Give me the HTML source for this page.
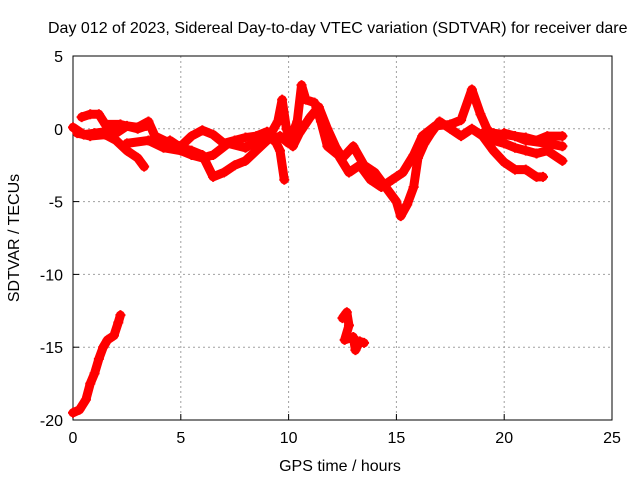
<!DOCTYPE html>
<html><head><meta charset="utf-8"><style>
body{margin:0;background:#fff;}
svg text{font-family:"Liberation Sans",sans-serif;font-size:16px;fill:#000;}
</style></head><body>
<svg id="chart" width="640" height="480" xmlns="http://www.w3.org/2000/svg">
<text x="48" y="33">Day 012 of 2023, Sidereal Day-to-day VTEC variation (SDTVAR) for receiver dare</text>
<g id="grid"></g>
<g id="axes"></g>
<g id="series"></g>
<text x="340" y="471" text-anchor="middle">GPS time / hours</text>
<text transform="translate(19,238) rotate(-90)" text-anchor="middle">SDTVAR / TECUs</text>
</svg>
<script>
const xTicks=[0,5,10,15,20,25];
const yTicks=[5,0,-5,-10,-15,-20];
const track1=[[0,0.1],[0.5,-0.4],[1,-0.3],[1.5,-0.2],[2,-0.3],[2.5,0.2],[3,0.1],[3.5,0.5],[3.8,-0.5],[4.5,-1.0],[5,-1.2],[5.5,-0.5],[6,-0.1],[6.5,-0.4],[7,-1.0],[7.5,-0.8],[8,-0.6],[8.5,-0.5],[9,-0.2],[9.3,-0.8],[9.6,-0.5],[10,-1.0],[10.4,0.5],[10.6,3.0],[10.8,2.0],[11.2,1.8],[11.5,0.5],[11.8,-1.2],[12.3,-1.8],[12.8,-3.0],[13.3,-2.5],[13.8,-3.5],[14.3,-4.0],[14.8,-3.5],[15.3,-3.0],[15.8,-1.8],[16.2,-0.5],[16.8,0.2],[17.5,0.3],[18,0.6],[18.5,2.7],[18.9,1.0],[19.2,0.0],[19.6,-0.7],[20,-0.3],[20.5,-0.5],[21,-0.6],[21.5,-0.8],[22,-0.5],[22.7,-0.5]];
const track2=[[0.2,-0.3],[0.8,-0.5],[1.5,-0.4],[2,-0.8],[2.5,-1.5],[3,-2.0],[3.3,-2.6]];
const track3=[[2.5,-1.0],[3.5,-0.8],[4.2,-1.3],[5,-1.5],[5.5,-1.8],[6,-2.0],[6.5,-1.8],[7.2,-1.0],[8,-1.3],[8.6,-0.8],[9.2,-0.3],[9.6,-1.5],[9.8,-3.5]];
const track4=[[4.5,-0.8],[5,-1.3],[5.5,-1.5],[6,-1.8],[6.5,-3.3],[7,-3.0],[7.5,-2.5],[8,-2.2],[8.5,-1.5],[9,-0.8],[9.5,0.5],[9.7,2.0],[9.9,0],[10.2,-1.2],[10.5,-0.3],[11,0.8],[11.4,1.5],[11.8,0],[12.2,-1.3],[12.5,-2.0],[13,-1.2],[13.5,-2.5],[14,-3.0],[14.5,-4.0],[15,-5.0],[15.2,-6.0],[15.5,-5.2],[15.8,-4.0],[16,-2.0],[16.3,-1.0],[16.6,-0.3],[17,0.5],[17.5,0],[18,-0.5],[18.5,0],[19,-0.5],[19.5,-1.5],[20,-2.3],[20.5,-2.8],[21,-2.8],[21.5,-3.3],[21.8,-3.3]];
const track5=[[19.5,-0.8],[20,-1.0],[20.5,-1.3],[21,-1.5],[21.5,-1.7],[22,-1.5],[22.7,-2.2]];
const track6=[[19,-0.3],[19.5,-0.3],[20,-0.4],[20.5,-0.5],[21,-0.8],[22,-1.0],[22.7,-1.2]];
const track7=[[0.4,0.8],[0.8,1.0],[1.2,1.0],[1.5,0.3],[2.2,0.3],[3,0],[3.4,0.2]];
const track8=[[0,-19.5],[0.3,-19.3],[0.6,-18.6],[0.8,-17.5],[1.0,-16.8],[1.2,-15.8],[1.4,-15.0],[1.6,-14.5],[1.9,-14.2],[2.1,-13.3],[2.2,-12.8]];
const track9=[[12.5,-13.0],[12.7,-12.6],[12.8,-13.5],[12.6,-14.5],[13,-14.3],[13.1,-15.2],[13.3,-14.6],[13.5,-14.7]];
const tracks=[track1,track2,track3,track4,track5,track6,track7,track8,track9];
const X0=73,X1=612,Y0=420,Y1=56;
function sx(v){return X0+(v-0)/(25-0)*(X1-X0);}
function sy(v){return Y0-(v+20)/(25)*(Y0-Y1);}
const NS='http://www.w3.org/2000/svg';
function mk(tag,attrs,parent){const e=document.createElementNS(NS,tag);for(const k in attrs)e.setAttribute(k,attrs[k]);parent.appendChild(e);return e;}
const grid=document.getElementById('grid'),axes=document.getElementById('axes'),series=document.getElementById('series');
xTicks.forEach(t=>{
 if(t>0&&t<25){const g=mk('line',{x1:sx(t),x2:sx(t),y1:Y1,y2:Y0,stroke:'#a0a0a0','stroke-dasharray':'2,3'},grid);
 
 }
 const tk=mk('line',{x1:sx(t),x2:sx(t),y1:Y0,y2:Y0-6,stroke:'#000'},axes);
 
 
 const lb=mk('text',{x:sx(t),y:Y0+23,'text-anchor':'middle'},axes);lb.textContent=t;
 
 
});
yTicks.forEach(t=>{
 if(t>-20&&t<5){const g=mk('line',{x1:X0,x2:X1,y1:sy(t),y2:sy(t),stroke:'#a0a0a0','stroke-dasharray':'2,3'},grid);
 
 }
 const tk=mk('line',{x1:X0,x2:X0+6,y1:sy(t),y2:sy(t),stroke:'#000'},axes);
 
 
 const lb=mk('text',{x:X0-10,y:sy(t)+6,'text-anchor':'end'},axes);lb.textContent=t;
 
 
});
const border=mk('rect',{x:X0,y:Y1,width:X1-X0,height:Y0-Y1,fill:'none',stroke:'#000'},axes);


tracks.forEach(tr=>{
 const pl=mk('polyline',{points:tr.map(p=>sx(p[0])+','+sy(p[1])).join(' '),fill:'none',stroke:'#ff0000','stroke-width':9,'stroke-linejoin':'round','stroke-linecap':'round'},series);
 
 
 tr.forEach(p=>{
  const m=mk('path',{d:`M${sx(p[0])-5},${sy(p[1])}h10M${sx(p[0])},${sy(p[1])-5}v10`,stroke:'#ff0000','stroke-width':2},series);
  
  
 });
});
</script>
</body></html>
